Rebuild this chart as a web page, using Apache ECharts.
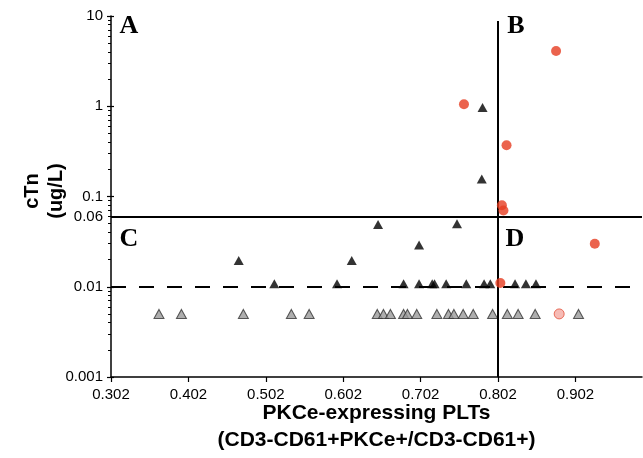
<!DOCTYPE html>
<html><head><meta charset="utf-8">
<script src="https://cdn.jsdelivr.net/npm/echarts@6/dist/echarts.min.js"></script>
<style>html,body{margin:0;padding:0;background:#fff}#c{width:643px;height:458px}</style>
</head><body><div id="c"></div>
<script>
// tick labels
const xTicks = [0.302, 0.402, 0.502, 0.602, 0.702, 0.802, 0.902];
const yTickLabels = [0.001, 0.01, 0.06, 0.1, 1, 10];
const yMajor = [0.001, 0.01, 0.1, 1, 10];
// thresholds
const cTnCutoff = 0.06;
const cTnDetect = 0.01;
const pkceCutoff = 0.802;
// red circles (events)
const redX = [0.877, 0.758, 0.813, 0.807, 0.809, 0.927, 0.805];
const redY = [4.1, 1.05, 0.37, 0.080, 0.070, 0.030, 0.011];
// pale circle
const paleX = [0.881];
const paleY = [0.005];
// black triangles
const blackX = [0.782, 0.781, 0.647, 0.749, 0.700, 0.467, 0.613, 0.513, 0.594,
  0.680, 0.700, 0.717, 0.720, 0.735, 0.761, 0.784, 0.792, 0.824, 0.838, 0.851];
const blackY = [0.97, 0.156, 0.049, 0.050, 0.029, 0.0195, 0.0195, 0.0108, 0.0108,
  0.0108, 0.0108, 0.0108, 0.0108, 0.0108, 0.0108, 0.0108, 0.0108, 0.0108, 0.0108, 0.0108];
// gray triangles (undetectable)
const grayX = [0.364, 0.393, 0.473, 0.535, 0.558, 0.646, 0.654, 0.663, 0.680, 0.685, 0.697,
  0.723, 0.738, 0.745, 0.757, 0.770, 0.795, 0.814, 0.828, 0.850, 0.906];
const grayY = [0.005, 0.005, 0.005, 0.005, 0.005, 0.005, 0.005, 0.005, 0.005, 0.005, 0.005,
  0.005, 0.005, 0.005, 0.005, 0.005, 0.005, 0.005, 0.005, 0.005, 0.005];

const minorTicks = [];
[0.001, 0.01, 0.1, 1].forEach(d => { for (let k = 2; k <= 9; k++) minorTicks.push(+(d * k).toPrecision(3)); });

const zip = (a, b) => a.map((v, i) => [v, b[i]]);
const chart = echarts.init(document.getElementById('c'));
const fontSans = 'Liberation Sans, Arial, sans-serif';
const fontSerif = 'bold 26px Liberation Serif, Times New Roman, serif';
const baseY = {
  type: 'log', logBase: 10, min: 0.001, max: 10, position: 'left',
  splitLine: { show: false }
};
chart.setOption({
  animation: false,
  backgroundColor: '#fff',
  grid: { left: 111, right: 1, top: 16, bottom: 81, containLabel: false, outerBoundsMode: 'none' },
  xAxis: {
    type: 'value', min: 0.302, max: 0.988,
    axisLine: { lineStyle: { color: '#000', width: 1.5 } },
    axisTick: { length: 5, lineStyle: { color: '#000', width: 1.2 }, customValues: xTicks },
    axisLabel: { customValues: xTicks, margin: 10, color: '#000', fontSize: 15, fontFamily: fontSans,
      formatter: v => (+v).toFixed(3) },
    splitLine: { show: false },
    name: 'PKCe-expressing PLTs\n(CD3-CD61+PKCe+/CD3-CD61+)',
    nameLocation: 'middle', nameGap: 23, nameMoveOverlap: false,
    nameTextStyle: { color: '#000', fontSize: 21, fontWeight: 'bold', fontFamily: fontSans, lineHeight: 27, verticalAlign: 'top' }
  },
  yAxis: [
    Object.assign({}, baseY, {
      axisLine: { show: true, lineStyle: { color: '#000', width: 1.5 } },
      axisTick: { show: true, length: 4, customValues: yMajor, lineStyle: { color: '#000', width: 1.2 } },
      axisLabel: { customValues: yTickLabels, margin: 8, color: '#000', fontSize: 15, fontFamily: fontSans,
        formatter: v => String(+(+v).toPrecision(3)) }
    }),
    Object.assign({}, baseY, {
      axisLine: { show: false },
      axisTick: { show: true, inside: true, length: 3, customValues: yMajor, lineStyle: { color: '#000', width: 1.2 } },
      axisLabel: { show: false }
    }),
    Object.assign({}, baseY, {
      axisLine: { show: false },
      axisTick: { show: true, length: 3, customValues: minorTicks, lineStyle: { color: '#000', width: 1 } },
      axisLabel: { show: false }
    })
  ],
  graphic: [
    { type: 'text', x: 44, y: 191, rotation: Math.PI / 2,
      style: { text: 'cTn\n(ug/L)', font: 'bold 20px ' + fontSans, fill: '#000', align: 'center', verticalAlign: 'middle', lineHeight: 24 } },
    { type: 'text', x: 129, y: 26, style: { text: 'A', font: fontSerif, fill: '#000', align: 'center', verticalAlign: 'middle' } },
    { type: 'text', x: 516, y: 26, style: { text: 'B', font: fontSerif, fill: '#000', align: 'center', verticalAlign: 'middle' } },
    { type: 'text', x: 129, y: 239, style: { text: 'C', font: fontSerif, fill: '#000', align: 'center', verticalAlign: 'middle' } },
    { type: 'text', x: 515, y: 239, style: { text: 'D', font: fontSerif, fill: '#000', align: 'center', verticalAlign: 'middle' } }
  ],
  series: [
    {
      type: 'scatter', yAxisIndex: 0, data: zip(grayX, grayY), symbol: 'triangle', symbolSize: [10, 9],
      itemStyle: { color: '#9a9a9a', borderColor: '#333', borderWidth: 1 }, z: 3,
      markLine: {
        silent: true, symbol: 'none', animation: false,
        label: { show: false },
        data: [
          [{ coord: [0.302, cTnCutoff] }, { coord: [0.988, cTnCutoff], lineStyle: { type: 'solid', width: 2, color: '#000' } }],
          [{ coord: [0.302, cTnDetect] }, { coord: [0.988, cTnDetect], lineStyle: { type: [15, 13], width: 2, color: '#000' } }],
          [{ coord: [pkceCutoff, 8.8] }, { coord: [pkceCutoff, 0.001], lineStyle: { type: 'solid', width: 2, color: '#000' } }]
        ],
        lineStyle: { color: '#000', width: 2, type: 'solid' }
      }
    },
    {
      type: 'scatter', data: zip(blackX, blackY), symbol: 'triangle', symbolSize: [10, 9],
      itemStyle: { color: '#000' }, z: 4
    },
    {
      type: 'scatter', data: zip(paleX, paleY), symbol: 'circle', symbolSize: 10,
      itemStyle: { color: '#f4aaa2', borderColor: '#e3503a', borderWidth: 1 }, z: 4
    },
    {
      type: 'scatter', data: zip(redX, redY), symbol: 'circle', symbolSize: 10,
      itemStyle: { color: '#e63c20' }, z: 5
    }
  ]
});
</script></body></html>
